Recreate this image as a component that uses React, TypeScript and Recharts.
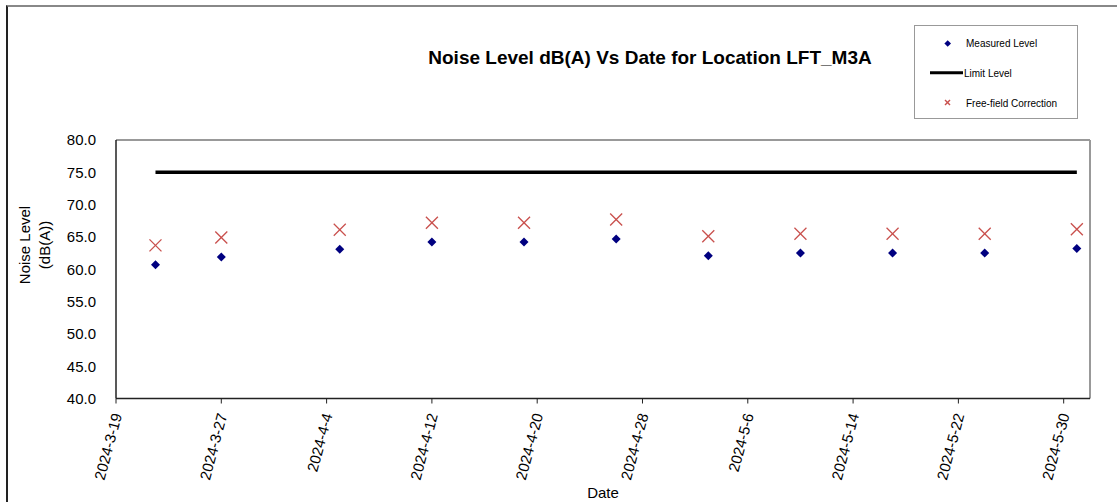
import React from 'react';
import {
  ComposedChart,
  Scatter,
  Line,
  XAxis,
  YAxis,
  ReferenceLine,
} from 'recharts';

// Survey dates and readings for location LFT_M3A
const dates = [
  '2024-3-22', '2024-3-27', '2024-4-5', '2024-4-12', '2024-4-19', '2024-4-26',
  '2024-5-3', '2024-5-10', '2024-5-17', '2024-5-24', '2024-5-31',
];
const measured = [60.7, 61.9, 63.1, 64.2, 64.2, 64.7, 62.1, 62.5, 62.5, 62.5, 63.2];
const corrected = [63.7, 64.9, 66.1, 67.2, 67.2, 67.7, 65.1, 65.5, 65.5, 65.5, 66.2];
const limit = [75, 75, 75, 75, 75, 75, 75, 75, 75, 75, 75];

const startDate = '2024-3-19';
const endDate = '2024-6-1';
const xTickDates = [
  '2024-3-19', '2024-3-27', '2024-4-4', '2024-4-12', '2024-4-20',
  '2024-4-28', '2024-5-6', '2024-5-14', '2024-5-22', '2024-5-30',
];
const yTicks = [40, 45, 50, 55, 60, 65, 70, 75, 80];

const FONT = '"Liberation Sans", Arial, Helvetica, sans-serif';

const toUtc = (s: string) => {
  const [y, m, d] = s.split('-').map(Number);
  return Date.UTC(y, m - 1, d);
};
const dayOf = (s: string) => Math.round((toUtc(s) - toUtc(startDate)) / 86400000);
const labelOf = (day: number) => {
  const d = new Date(toUtc(startDate) + day * 86400000);
  return `${d.getUTCFullYear()}-${d.getUTCMonth() + 1}-${d.getUTCDate()}`;
};

const rows = (values: number[]) => dates.map((s, i) => ({ day: dayOf(s), value: values[i] }));
const measuredRows = rows(measured);
const correctedRows = rows(corrected);
const limitRows = rows(limit);

const Diamond = (props: any) => {
  const { cx, cy } = props;
  const r = 4.5;
  return (
    <polygon
      points={`${cx},${cy - r} ${cx + r},${cy} ${cx},${cy + r} ${cx - r},${cy}`}
      fill="#000080"
    />
  );
};

const Cross = (props: any) => {
  const { cx, cy } = props;
  const r = 6;
  return (
    <g stroke="#c9504d" strokeWidth={1.3}>
      <line x1={cx - r} y1={cy - r} x2={cx + r} y2={cy + r} />
      <line x1={cx - r} y1={cy + r} x2={cx + r} y2={cy - r} />
    </g>
  );
};

const DateTick = (props: any) => {
  const { x, y, payload } = props;
  return (
    <text
      transform={`translate(${x + 1},${y + 8}) rotate(-75)`}
      textAnchor="end"
      dy="0.35em"
      fontSize={15}
      fill="#000"
    >
      {labelOf(payload.value)}
    </text>
  );
};

const LegendBox = () => (
  <div
    style={{
      position: 'absolute',
      left: 914,
      top: 25,
      width: 162,
      height: 92,
      border: '1px solid #999',
      background: '#fff',
      fontSize: 10,
      color: '#000',
    }}
  >
    <svg width={162} height={92} style={{ position: 'absolute', left: 0, top: 0 }}>
      <polygon points="32.7,14.2 36,17.5 32.7,20.8 29.4,17.5" fill="#000080" />
      <line x1={15} y1={46.7} x2={48} y2={46.7} stroke="#000" strokeWidth={3} />
      <g stroke="#c9504d" strokeWidth={1.4}>
        <line x1={30} y1={74} x2={35} y2={79} />
        <line x1={30} y1={79} x2={35} y2={74} />
      </g>
      <text x={51} y={21} fontSize={10} fill="#000">Measured Level</text>
      <text x={49} y={50.5} fontSize={10} fill="#000">Limit Level</text>
      <text x={51} y={80.5} fontSize={10} fill="#000">Free-field Correction</text>
    </svg>
  </div>
);

export default function App() {
  return (
    <div
      style={{
        position: 'absolute',
        left: 0,
        top: 0,
        width: 1117,
        height: 502,
        overflow: 'hidden',
        background: '#fff',
        fontFamily: FONT,
      }}
    >
      <div
        style={{
          position: 'absolute',
          left: 6,
          top: 5,
          width: 1200,
          height: 600,
          borderLeft: '2px solid #222',
          borderTop: '2px solid #888',
        }}
      />
      <ComposedChart
        width={1117}
        height={502}
        margin={{ top: 140, right: 27, left: 56, bottom: 0 }}
        style={{ position: 'absolute', left: 0, top: 0 }}
      >
        <XAxis
          type="number"
          dataKey="day"
          domain={[0, dayOf(endDate)]}
          ticks={xTickDates.map(dayOf)}
          interval={0}
          height={103.5}
          tick={<DateTick />}
          tickSize={5}
          axisLine={{ stroke: '#222', strokeWidth: 1.5 }}
          tickLine={{ stroke: '#222' }}
          allowDataOverflow
          label={{ value: 'Date', position: 'insideBottom', offset: 4, fontSize: 15, fill: '#000' }}
        />
        <YAxis
          type="number"
          dataKey="value"
          domain={[40, 80]}
          ticks={yTicks}
          interval={0}
          width={60}
          tickFormatter={(v: number) => v.toFixed(1)}
          tick={{ fontSize: 15, fill: '#000' }}
          tickLine={false}
          tickSize={6}
          tickMargin={14}
          axisLine={{ stroke: '#222', strokeWidth: 1.5 }}
          allowDataOverflow
        />
        <ReferenceLine y={80} stroke="#999" strokeWidth={2} />
        <ReferenceLine x={dayOf(endDate)} stroke="#999" strokeWidth={2} />
        <Line
          data={limitRows}
          dataKey="value"
          stroke="#000"
          strokeWidth={3.5}
          dot={false}
          isAnimationActive={false}
        />
        <Scatter data={correctedRows} dataKey="value" shape={<Cross />} isAnimationActive={false} />
        <Scatter data={measuredRows} dataKey="value" shape={<Diamond />} isAnimationActive={false} />
      </ComposedChart>
      <div
        style={{
          position: 'absolute',
          left: 0,
          width: 1300,
          top: 47,
          textAlign: 'center',
          fontSize: 19,
          fontWeight: 'bold',
          color: '#000',
          whiteSpace: 'nowrap',
        }}
      >
        Noise Level dB(A) Vs Date for Location LFT_M3A
      </div>
      <svg width={70} height={502} style={{ position: 'absolute', left: 0, top: 0 }}>
        <text
          transform="translate(30,245) rotate(-90)"
          textAnchor="middle"
          fontSize={15}
          fill="#000"
        >
          Noise Level
        </text>
        <text
          transform="translate(50,245) rotate(-90)"
          textAnchor="middle"
          fontSize={15}
          fill="#000"
        >
          (dB(A))
        </text>
      </svg>
      <LegendBox />
    </div>
  );
}
